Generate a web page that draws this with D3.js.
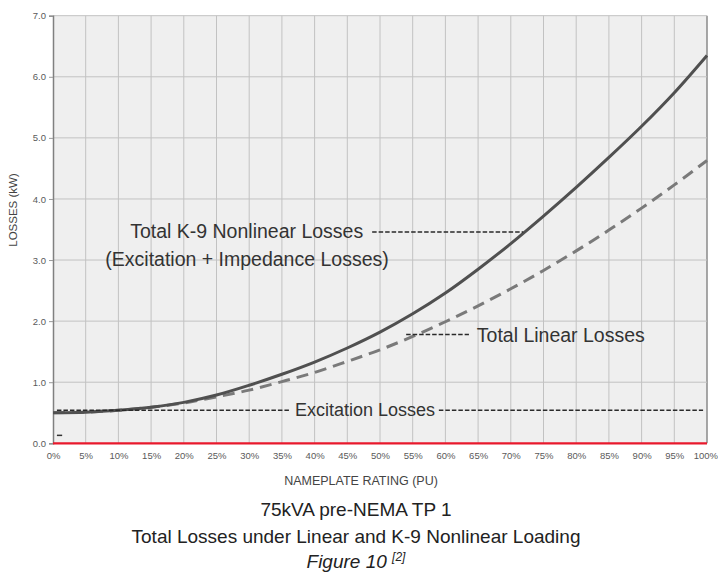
<!DOCTYPE html>
<html><head><meta charset="utf-8">
<script src="https://cdn.jsdelivr.net/npm/d3@7/dist/d3.min.js"></script>
<style>
body{margin:0;background:#fff;}
svg{display:block;font-family:"Liberation Sans",Arial,sans-serif;}
</style></head>
<body>
<svg id="chart" width="718" height="575"></svg>
<script>
// ---- data ----
const ratingPct = [0,5,10,15,20,25,30,35,40,45,50,55,60,65,70,75,80,85,90,95,100];
const nonlinearLosses = [0.50,0.51,0.54,0.59,0.67,0.79,0.95,1.13,1.33,1.56,1.82,2.12,2.46,2.85,3.27,3.72,4.19,4.68,5.19,5.74,6.35];
const linearLosses = [0.50,0.51,0.54,0.59,0.66,0.76,0.87,1.01,1.16,1.34,1.53,1.75,1.99,2.25,2.53,2.83,3.15,3.49,3.85,4.23,4.63];
const excitationLoss = 0.54;
const yTicks = [0,1,2,3,4,5,6,7];
const xTicks = ratingPct;
const captionLines = ["75kVA pre-NEMA TP 1","Total Losses under Linear and K-9 Nonlinear Loading"];

const svg = d3.select("#chart");
const L = 53, R = 707, T = 15.7, B = 443.3;
const x = d3.scaleLinear().domain([0,100]).range([L,R]);
const y = d3.scaleLinear().domain([0,7]).range([B,T]);

// background
svg.append("rect").attr("x",L).attr("y",T).attr("width",R-L).attr("height",B-T).attr("fill","#efefef");

// grid
svg.append("g").selectAll("line").data(xTicks.slice(1)).join("line")
  .attr("x1",d=>x(d)).attr("x2",d=>x(d)).attr("y1",T).attr("y2",B)
  .attr("stroke",d=>d===100?"#8a8a8a":"#c2c2c2").attr("stroke-width",d=>d===100?1.5:1);
svg.append("g").selectAll("line").data(yTicks.slice(1)).join("line")
  .attr("x1",L).attr("x2",R).attr("y1",d=>y(d)).attr("y2",d=>y(d))
  .attr("stroke","#c2c2c2").attr("stroke-width",1);

// y axis
const yAxis = svg.append("g").attr("transform",`translate(${L},0)`)
  .call(d3.axisLeft(y).tickValues(yTicks).tickFormat(d3.format(".1f")).tickSize(4).tickPadding(3));
yAxis.select(".domain").attr("stroke","#808080").attr("stroke-width",1.5);
yAxis.selectAll(".tick line").attr("stroke","#999");
yAxis.selectAll("text").attr("fill","#5a5a5a").style("font-size","9.5px").style("font-family","Liberation Sans, Arial, sans-serif");

// x axis
const xAxis = svg.append("g").attr("transform",`translate(0,${B})`)
  .call(d3.axisBottom(x).tickValues(xTicks).tickFormat(d=>d+"%").tickSize(0).tickPadding(9));
xAxis.select(".domain").remove();
xAxis.selectAll("text").attr("fill","#5a5a5a").style("font-size","9.5px").style("font-family","Liberation Sans, Arial, sans-serif");
xAxis.selectAll(".tick").filter(d=>d===100).select("text").attr("text-anchor","end").attr("x",10.5);

// red baseline
svg.append("line").attr("x1",x(0)).attr("x2",x(100)).attr("y1",y(0)).attr("y2",y(0))
  .attr("stroke","#e8192c").attr("stroke-width",2.2);

// curves
const line = d3.line().x((d,i)=>x(ratingPct[i])).y(d=>y(d)).curve(d3.curveCatmullRom.alpha(0.5));
svg.append("path").attr("d",line(linearLosses)).attr("fill","none")
  .attr("stroke","#7a7a7a").attr("stroke-width",3).attr("stroke-dasharray","12,7");
svg.append("path").attr("d",line(nonlinearLosses)).attr("fill","none")
  .attr("stroke","#505050").attr("stroke-width",3);

// annotations
const ann = svg.append("g").attr("fill","#333");
function leader(x1,x2,v,dash){
  svg.append("line").attr("x1",x(x1)).attr("x2",x(x2)).attr("y1",y(v)).attr("y2",y(v))
    .attr("stroke","#2a2a2a").attr("stroke-width",1.4).attr("stroke-dasharray",dash||"4.5,2");
}
// excitation
leader(0.6,36.2,excitationLoss);
leader(59.0,99.4,excitationLoss);
ann.append("text").attr("x",x(37.0)).attr("y",y(0.44)).style("font-size","18px").text("Excitation Losses");
// small mark
svg.append("line").attr("x1",x(0.6)).attr("x2",x(1.4)).attr("y1",y(0.13)).attr("y2",y(0.13))
  .attr("stroke","#333").attr("stroke-width",1.5);
// nonlinear
ann.append("text").attr("x",x(11.8)).attr("y",y(3.36)).style("font-size","19.5px").text("Total K-9 Nonlinear Losses");
ann.append("text").attr("x",x(8.0)).attr("y",y(2.91)).style("font-size","19.5px").text("(Excitation + Impedance Losses)");
leader(48.8,71.9,3.46);
// linear
leader(54.0,63.6,1.78);
ann.append("text").attr("x",x(64.8)).attr("y",y(1.66)).style("font-size","19.5px").text("Total Linear Losses");

// axis titles
svg.append("text").attr("x",361).attr("y",485).attr("text-anchor","middle")
  .attr("fill","#444").style("font-size","12.5px").text("NAMEPLATE RATING (PU)");
svg.append("text").attr("transform","translate(17,210) rotate(-90)").attr("text-anchor","middle")
  .attr("fill","#444").style("font-size","11.5px").text("LOSSES (kW)");

// caption
const cx = 356;
svg.append("text").attr("x",cx).attr("y",516).attr("text-anchor","middle").attr("fill","#222")
  .style("font-size","19px").text(captionLines[0]);
svg.append("text").attr("x",cx).attr("y",543).attr("text-anchor","middle").attr("fill","#222")
  .style("font-size","19px").text(captionLines[1]);
const fig = svg.append("text").attr("x",cx).attr("y",568).attr("text-anchor","middle").attr("fill","#222")
  .style("font-size","19px").style("font-style","italic");
fig.append("tspan").text("Figure 10 ");
fig.append("tspan").attr("dy",-7).style("font-size","12px").text("[2]");
</script>
</body></html>
